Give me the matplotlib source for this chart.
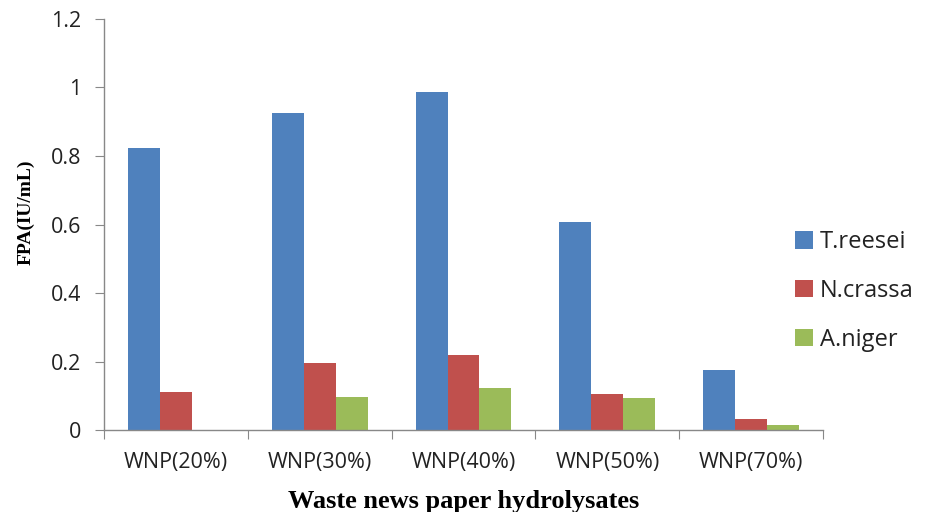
import matplotlib
matplotlib.use("Agg")
import matplotlib.pyplot as plt
import numpy as np

# Filter paper activity per hydrolysate and strain
categories = ["WNP(20%)", "WNP(30%)", "WNP(40%)", "WNP(50%)", "WNP(70%)"]
strains = ["T.reesei", "N.crassa", "A.niger"]
t_reesei = [0.823, 0.926, 0.988, 0.606, 0.176]
n_crassa = [0.111, 0.196, 0.218, 0.106, 0.032]
a_niger = [0.0, 0.097, 0.123, 0.094, 0.015]
colors = ["#4F81BD", "#C0504D", "#9BBB59"]

plt.rcParams["font.family"] = ["Open Sans", "DejaVu Sans"]

fig = plt.figure(figsize=(9.34, 5.12), dpi=100)
ax = fig.add_axes([0.1113, 0.16, 0.7699, 0.803])

x = np.arange(len(categories))
w = 1 / 4.5
for i, (vals, name) in enumerate(zip([t_reesei, n_crassa, a_niger], strains)):
    ax.bar(x + (i - 1) * w, vals, width=w, color=colors[i], label=name,
           edgecolor="none")

ax.set_xlim(-0.5, len(categories) - 0.5)
ax.set_ylim(0, 1.2)
ax.set_yticks(np.arange(0, 1.21, 0.2))
ax.set_yticklabels(["0", "0.2", "0.4", "0.6", "0.8", "1", "1.2"])

# category boundaries get the tick marks, centres get the labels
ax.set_xticks(np.arange(-0.5, len(categories), 1.0))
ax.set_xticklabels([])
ax.set_xticks(x, minor=True)
ax.set_xticklabels(categories, minor=True)
ax.tick_params(axis="x", which="minor", length=0, pad=16, labelsize=15.5, colors="#222222")
ax.tick_params(axis="x", which="major", length=6.5, color="#888888")
ax.tick_params(axis="y", length=6.5, color="#888888", labelsize=15.5, pad=10, labelcolor="#222222")

for s in ["top", "right"]:
    ax.spines[s].set_visible(False)
for s in ["left", "bottom"]:
    ax.spines[s].set_color("#888888")
    ax.spines[s].set_linewidth(1.0)

ax.set_ylabel("FPA(IU/mL)", family="Liberation Serif", fontweight="bold", fontsize=14)
ax.yaxis.set_label_coords(-0.096, 0.53)
ax.set_xlabel("Waste news paper hydrolysates", family="Liberation Serif", fontweight="bold",
              fontsize=19, labelpad=12)

fig.legend(loc="center left", bbox_to_anchor=(0.851, 0.432), frameon=False, fontsize=17,
           handlelength=0.76, handleheight=0.76, handletextpad=0.3, labelspacing=1.05,
           borderpad=0, borderaxespad=0, labelcolor="#222222")

fig.savefig("out.png", dpi=100)
